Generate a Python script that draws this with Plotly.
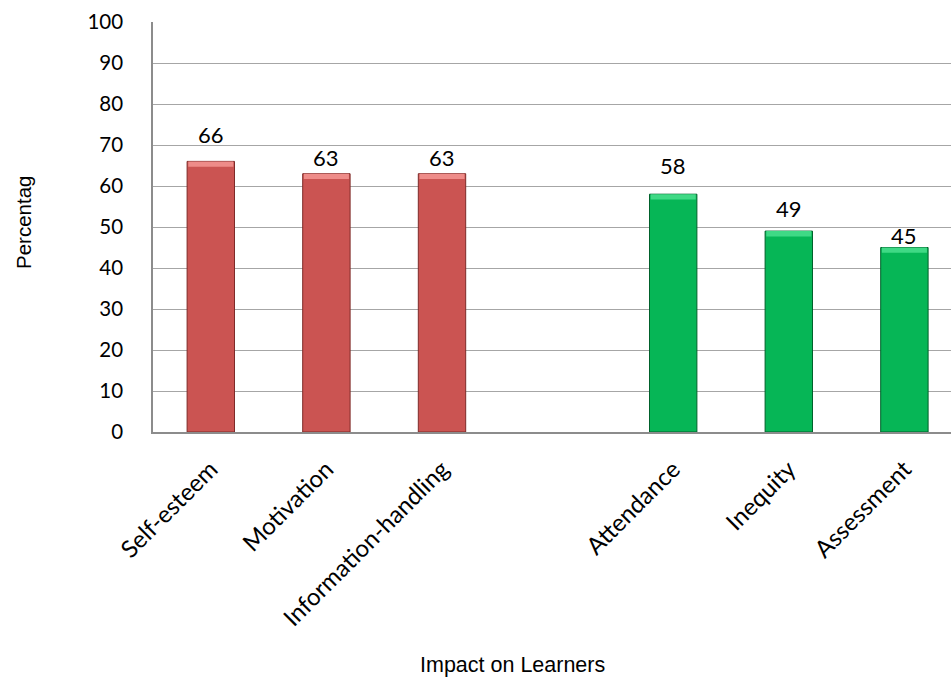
import plotly.graph_objects as go

# Survey results: share of respondents reporting each impact on learners
categories = ["Self-esteem", "Motivation", "Information-handling",
              "Attendance", "Inequity", "Assessment"]
values = [66, 63, 63, 58, 49, 45]
# slot index of each category on the axis (slot 3 is left empty between the groups)
slots = [0, 1, 2, 4, 5, 6]
groups = ["positive", "positive", "positive", "negative", "negative", "negative"]
y_ticks = [0, 10, 20, 30, 40, 50, 60, 70, 80, 90, 100]

# Styling
fill = {"positive": "#CB5452", "negative": "#06B656"}
edge = {"positive": "#7E2A28", "negative": "#00612B"}
cap = {"positive": "#EE8C89", "negative": "#3FD985"}
label_lift = [14, 4, 4, 16, 10, 0]   # extra pixels above each bar for its value label
LABEL_FONT = "Lato, Calibri, sans-serif"
TITLE_FONT = "Liberation Sans, Arial, sans-serif"

fig = go.Figure()

# main bar bodies
fig.add_trace(go.Bar(
    x=slots, y=values,
    width=0.41,
    marker=dict(color=[fill[g] for g in groups],
                line=dict(color=[edge[g] for g in groups], width=1)),
    hoverinfo="skip", showlegend=False,
))

# lighter bevel along the top of each bar
cap_h = 1.3
fig.add_trace(go.Bar(
    x=slots, y=[cap_h] * len(values), base=[v - cap_h for v in values],
    width=0.41 - 0.02,
    marker=dict(color=[cap[g] for g in groups], line=dict(width=0)),
    hoverinfo="skip", showlegend=False,
))

# value labels above the bars
for s, v, lift in zip(slots, values, label_lift):
    fig.add_annotation(
        x=s, y=v, text=str(v), showarrow=False,
        yanchor="bottom", yshift=-3 + lift,
        font=dict(family=LABEL_FONT, size=22, color="#000000"),
    )

# axis titles
fig.add_annotation(
    xref="paper", yref="paper", x=(512 - 153) / 798, y=-(665 - 432) / 410,
    text="Impact on Learners", showarrow=False,
    xanchor="center", yanchor="middle",
    font=dict(family=TITLE_FONT, size=21.5, color="#000000"),
)
fig.add_annotation(
    xref="paper", yref="paper", x=-(153 - 23) / 798, y=(432 - 223) / 410,
    text="Percentag", showarrow=False, textangle=-90,
    xanchor="center", yanchor="middle",
    font=dict(family=TITLE_FONT, size=20.5, color="#000000"),
)

fig.update_layout(
    width=951, height=679,
    margin=dict(l=153, r=0, t=22, b=247),
    paper_bgcolor="white", plot_bgcolor="white",
    barmode="overlay",
    xaxis=dict(
        range=[-0.5, -0.5 + 798 / 115.6],
        tickmode="array", tickvals=slots, ticktext=categories,
        tickangle=-45, ticks="", ticklabelstandoff=12,
        showgrid=False, zeroline=False,
        showline=True, linecolor="#8C8C8C", linewidth=1.5,
        tickfont=dict(family=LABEL_FONT, size=24, color="#000000"),
    ),
    yaxis=dict(
        range=[0, 100], tickmode="array", tickvals=y_ticks,
        ticks="", ticklabelstandoff=24,
        showgrid=True, gridcolor="#A6A6A6", gridwidth=1.2,
        zeroline=False, showline=True, linecolor="#8C8C8C", linewidth=1.5,
        tickfont=dict(family=LABEL_FONT, size=20.5, color="#000000"),
    ),
)

fig.write_html("out.html")
